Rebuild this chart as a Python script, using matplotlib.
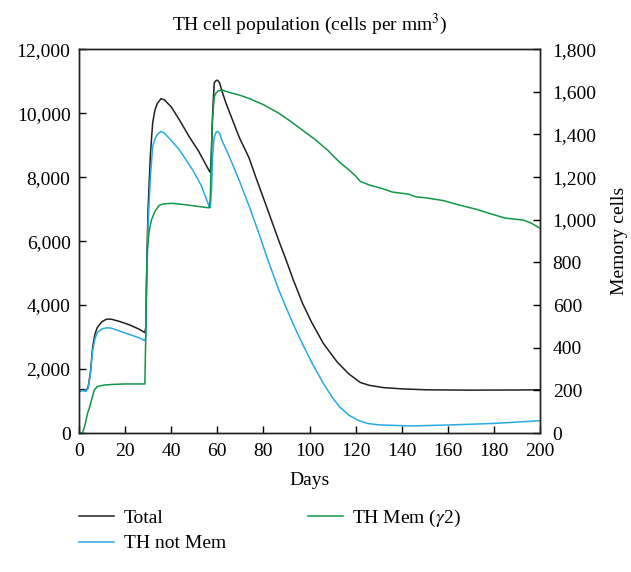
import matplotlib
matplotlib.use("Agg")
import matplotlib.pyplot as plt
from matplotlib.ticker import FuncFormatter

plt.rcParams['font.family'] = ['Liberation Serif', 'DejaVu Serif']
plt.rcParams['mathtext.fontset'] = 'stix'

# total TH cells (left axis)
total_days = [0, 2, 3, 4, 5, 6, 7, 8, 10, 12, 14, 18, 22, 26, 28.6,
              29, 29.5, 30, 31, 32, 33, 34, 35.6, 37, 40, 43.5, 47.8, 52, 56.5,
              57, 57.5, 58, 58.7, 59.5, 60.1, 61, 62, 63.7, 66, 69.5, 73.8, 76.7,
              80, 83, 87, 90, 92.8, 97, 101, 106, 112, 117, 122, 126, 132, 140,
              151, 170, 190, 200]
total_vals = [1350, 1360, 1330, 1420, 1900, 2700, 3100, 3300, 3480, 3560, 3560, 3480, 3380, 3250, 3140,
              3300, 5500, 7000, 8700, 9700, 10100, 10300, 10450, 10420, 10200, 9800, 9270, 8800, 8200,
              8150, 8800, 10000, 10950, 11020, 11030, 10950, 10700, 10330, 9900, 9250, 8600, 8000,
              7350, 6750, 5950, 5380, 4820, 4050, 3450, 2800, 2220, 1850, 1580, 1490, 1420, 1380,
              1350, 1340, 1345, 1350]

# TH not memory (left axis)
notmem_days = [0, 2, 3, 4, 5, 6, 7, 8, 10, 12, 14, 18, 22, 26, 28.6,
               29, 29.5, 30, 31, 32, 33, 34, 35.6, 37, 40, 43.5, 49.3, 53, 56.5,
               57, 57.5, 58, 58.7, 59.5, 60.1, 61, 62, 65.2, 69.5, 73.8, 78.5, 81.5,
               86.8, 92.8, 97, 101, 106, 110, 113, 117, 121, 125, 130, 143.6, 160, 180, 200]
notmem_vals = [1300, 1320, 1300, 1400, 1850, 2600, 2950, 3150, 3250, 3290, 3280, 3180, 3080, 2980, 2890,
               3000, 5000, 6500, 8000, 8960, 9200, 9330, 9430, 9380, 9150, 8860, 8230, 7750, 7080,
               7050, 7600, 8700, 9270, 9400, 9430, 9370, 9150, 8650, 7900, 7100, 6150, 5500,
               4450, 3420, 2780, 2200, 1550, 1100, 820, 560, 400, 300, 255, 220, 250, 300, 385]

# TH memory cells (right axis)
mem_days = [0, 1.5, 2.5, 3.8, 4.5, 5.3, 6, 6.7, 8, 11, 15, 20, 28.6,
            29, 29.3, 29.7, 30.5, 31.5, 33, 34.8, 37, 40.6, 45, 50, 56.5,
            57, 57.4, 57.8, 58.7, 59.5, 60.5, 62.3, 65, 69.5, 73.8, 80, 86.8, 92, 97,
            102.7, 108, 113, 117.2, 120, 122, 126, 131, 136, 143, 146, 151, 158, 165,
            172, 178, 184.8, 189, 192.6, 196, 200]
mem_vals = [0, 0, 30, 94, 115, 147, 175, 202, 218, 225, 228, 230, 230,
            450, 700, 860, 950, 1000, 1040, 1068, 1075, 1077, 1072, 1065, 1056,
            1100, 1300, 1450, 1577, 1595, 1605, 1608, 1598, 1585, 1569, 1540, 1499, 1460, 1420,
            1374, 1325, 1270, 1233, 1205, 1180, 1163, 1148, 1130, 1120, 1108, 1102, 1090, 1069,
            1050, 1030, 1008, 1003, 999, 985, 960]

fig = plt.figure(figsize=(6.31, 5.72), dpi=100)
ax = fig.add_axes([0.125, 0.243, 0.731, 0.671])
ax2 = ax.twinx()

l1, = ax.plot(total_days, total_vals, color='#231f20', lw=1.1)
l2, = ax.plot(notmem_days, notmem_vals, color='#29abe2', lw=1.1)
l3, = ax2.plot(mem_days, mem_vals, color='#13954a', lw=1.1)

ax.set_xlim(0, 200)
ax.set_ylim(0, 12000)
ax2.set_ylim(0, 1800)
ax.set_xticks(range(0, 201, 20))
ax.set_yticks(range(0, 12001, 2000))
ax2.set_yticks(range(0, 1801, 200))

fmt = FuncFormatter(lambda v, p: f"{int(v):,}")
ax.yaxis.set_major_formatter(fmt)
ax2.yaxis.set_major_formatter(fmt)

fs = 14
ax.tick_params(direction='in', length=5, width=1, labelsize=fs, top=False, right=False, pad=6)
ax.tick_params(axis='x', pad=7)
ax2.tick_params(direction='in', length=5, width=1, labelsize=fs, pad=9)
for a in (ax, ax2):
    for s in a.spines.values():
        s.set_linewidth(1)
        s.set_color('#231f20')

ax.set_xlabel("Days", fontsize=fs, labelpad=9)
ax2.set_ylabel("Memory cells", fontsize=fs, labelpad=10)
ax.set_title("TH cell population (cells per mm$^3$)", fontsize=fs, pad=14)

fig.legend([l1, l2, l3], ["Total", "TH not Mem", r"TH Mem ($\gamma$2)"],
           ncol=2, frameon=False, fontsize=fs, loc='upper left',
           bbox_to_anchor=(0.125, 0.112), columnspacing=4.2,
           handlelength=1.8, handletextpad=0.5, labelspacing=0.4,
           borderaxespad=0, borderpad=0)

fig.savefig("out.png", dpi=100)
